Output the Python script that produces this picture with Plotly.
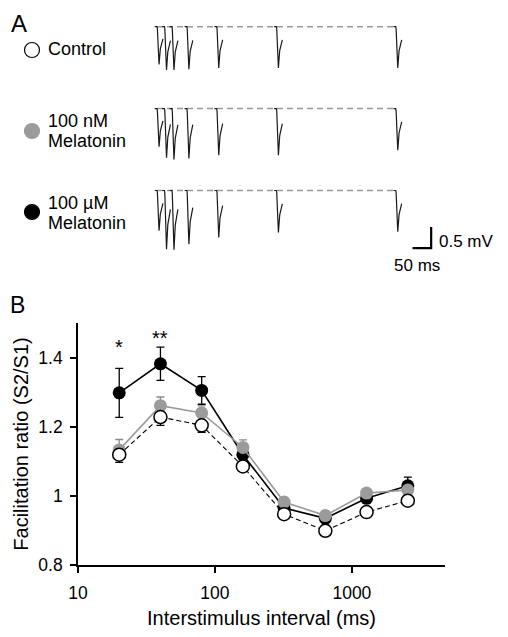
import numpy as np
import plotly.graph_objects as go

# ---------------- Panel B data ----------------
isi_ms = [20, 40, 80, 160, 320, 640, 1280, 2560]
control = [1.119, 1.228, 1.204, 1.085, 0.947, 0.899, 0.953, 0.986]
control_err = [0.022, 0.024, 0.020, 0.012, 0.010, 0.010, 0.012, 0.010]
mel_100nM = [1.133, 1.261, 1.240, 1.140, 0.982, 0.943, 1.008, 1.017]
mel_100nM_err = [0.030, 0.025, 0.020, 0.022, 0.010, 0.012, 0.010, 0.012]
mel_100uM = [1.298, 1.382, 1.305, 1.119, 0.965, 0.935, 0.993, 1.029]
mel_100uM_err = [0.071, 0.048, 0.040, 0.030, 0.015, 0.020, 0.015, 0.025]
x_ticks = [10, 100, 1000]
x_ticktext = ["10", "100", "1000"]
y_ticks = [0.8, 1.0, 1.2, 1.4]
y_ticktext = ["0.8", "1", "1.2", "1.4"]
sig_isi = [20, 40]
sig_labels = ["*", "**"]
sig_y = [1.443, 1.467]

# ---------------- Panel A data (example traces) ----------------
trace_isi = [20, 40, 80, 160, 320, 640]          # ms, superimposed sweeps
ctrl_s1 = 0.90                                    # mV
ctrl_s2 = [1.03, 1.03, 1.01, 0.98, 0.98, 0.98]
nm_s1 = 0.91
nm_s2 = [1.17, 1.21, 1.19, 1.11, 1.11, 0.99]
um_s1 = 0.96
um_s2 = [1.40, 1.41, 1.28, 1.12, 1.00, 0.98]
# fEPSP waveform template: time from stimulus (ms), fraction of peak
tmpl_t = [-6, 0, 1, 5.5, 9, 11.5, 16]
tmpl_f = [0, 0, 0.05, 1.0, 0.58, 0.45, 0.32]
scale_ms = 50
scale_mv = 0.5

# page body has an 8px margin; lay out in window pixel coordinates
OFF = 8
W, H = 492, 621
FONT = "Liberation Sans, Arial, sans-serif"

def px(x):
    return (x - OFF) / W

def py(y):
    return 1 - (y - OFF) / H

fig = go.Figure()

# ---------------- Panel A ----------------
PX_MS = 0.373
PX_MV = 42.0
T0_PX = 157.0
BASE_PX = 26.7
A_TOP, A_BOT = OFF, 292
xr2 = [(OFF - T0_PX) / PX_MS, (OFF + W - T0_PX) / PX_MS]
yr2 = [-(A_BOT - BASE_PX) / PX_MV, (BASE_PX - A_TOP) / PX_MV]
trace_gap = 1.95  # mV between stacked traces

conds = [(ctrl_s1, ctrl_s2), (nm_s1, nm_s2), (um_s1, um_s2)]
for i, (s1, s2) in enumerate(conds):
    off = -trace_gap * i
    fig.add_trace(go.Scatter(x=[0, trace_isi[-1]], y=[off, off], mode="lines",
                             line=dict(color="#9a9a9a", width=1.5, dash="6px,4px"),
                             xaxis="x2", yaxis="y2", hoverinfo="skip", showlegend=False))
    xs, ys = [], []
    responses = [(0, s1)] + list(zip(trace_isi, s2))
    for t0, amp in responses:
        for dt, f in zip(tmpl_t, tmpl_f):
            xs.append(t0 + dt)
            ys.append(off - amp * f)
        xs.append(None)
        ys.append(None)
    fig.add_trace(go.Scatter(x=xs, y=ys, mode="lines",
                             line=dict(color="#1a1a1a", width=1.2),
                             xaxis="x2", yaxis="y2", hoverinfo="skip", showlegend=False))

# scale bar
sb_t_end = 735
sb_v = -5.27
fig.add_trace(go.Scatter(x=[sb_t_end - scale_ms, sb_t_end, sb_t_end],
                         y=[sb_v, sb_v, sb_v + scale_mv], mode="lines",
                         line=dict(color="black", width=2.2),
                         xaxis="x2", yaxis="y2", hoverinfo="skip", showlegend=False))

# ---------------- Panel B ----------------
series = [
    (mel_100uM, mel_100uM_err, "black", "black", "black", "solid", "both"),
    (mel_100nM, mel_100nM_err, "#9b9b9b", "#9b9b9b", "#8a8a8a", "solid", "up"),
    (control, control_err, "white", "black", "black", "dash", "down"),
]
for vals, err, fill, edge, ecol, dash, mode in series:
    zeros = [0] * len(err)
    if mode == "both":
        ey = dict(type="data", array=err, arrayminus=err, symmetric=False)
    elif mode == "up":
        ey = dict(type="data", array=err, arrayminus=zeros, symmetric=False)
    else:
        ey = dict(type="data", array=zeros, arrayminus=err, symmetric=False)
    ey.update(color=ecol, thickness=1.3, width=4)
    fig.add_trace(go.Scatter(
        x=isi_ms, y=vals, mode="lines+markers",
        line=dict(color=edge if fill != "white" else "black", width=1.6 if dash == "solid" else 1.1,
                  dash="solid" if dash == "solid" else "5px,3px"),
        marker=dict(size=13, color=fill, line=dict(color=edge, width=1.5 if fill == "white" else 0)),
        error_y=ey, xaxis="x", yaxis="y", showlegend=False, hoverinfo="skip"))

annotations = []
for xv, lab, yv in zip(sig_isi, sig_labels, sig_y):
    annotations.append(dict(x=np.log10(xv), y=yv, xref="x", yref="y", text=lab,
                            showarrow=False, yanchor="middle", yshift=-4,
                            font=dict(family=FONT, size=20, color="black")))

def txt(x, y, s, size, xanchor="left", yanchor="middle"):
    annotations.append(dict(x=px(x), y=py(y), xref="paper", yref="paper", text=s,
                            showarrow=False, xanchor=xanchor, yanchor=yanchor,
                            font=dict(family=FONT, size=size, color="black")))

txt(9, OFF, "A", 24, yanchor="top")
txt(8, 305, "B", 23)
txt(46, 49, "Control", 18)
txt(46, 121, "100 nM", 18)
txt(46, 141, "Melatonin", 18)
txt(46, 203, "100 \u00b5M", 18)
txt(46, 223, "Melatonin", 18)
txt(437, 241, "0.5 mV", 17)
txt(417, 265, "50 ms", 17, xanchor="center")

shapes = []
def legend_circle(x, y, fill, line):
    shapes.append(dict(type="circle", xref="paper", yref="paper",
                       xsizemode="pixel", ysizemode="pixel",
                       xanchor=px(x), yanchor=py(y),
                       x0=-7.5, x1=7.5, y0=-7.5, y1=7.5,
                       fillcolor=fill, line=dict(color=line, width=1.2)))

legend_circle(32, 50, "white", "black")
legend_circle(32, 131, "#9b9b9b", "#9b9b9b")
legend_circle(32, 212, "black", "black")

fig.update_layout(
    width=W, height=H,
    margin=dict(l=0, r=0, t=0, b=0, autoexpand=False),
    paper_bgcolor="white", plot_bgcolor="white",
    font=dict(family=FONT, color="black"),
    annotations=annotations, shapes=shapes,
    xaxis=dict(type="log", range=[1, 3.68], domain=[px(78), px(445)], anchor="y",
               automargin=False,
               showline=True, linecolor="black", linewidth=1.6,
               ticks="outside", ticklen=6, tickwidth=1.5, tickcolor="black",
               ticklabelstandoff=5,
               tickvals=x_ticks, ticktext=x_ticktext, tickfont=dict(size=17.5),
               showgrid=False, zeroline=False,
               title=dict(text="Interstimulus interval (ms)", font=dict(size=20), standoff=12)),
    yaxis=dict(range=[0.8, 1.5], domain=[py(565), py(323)], anchor="x",
               automargin=False,
               showline=True, linecolor="black", linewidth=1.6,
               ticks="outside", ticklen=6, tickwidth=1.5, tickcolor="black",
               ticklabelstandoff=4,
               tickvals=y_ticks, ticktext=y_ticktext, tickfont=dict(size=17.5),
               showgrid=False, zeroline=False,
               title=dict(text="Facilitation ratio (S2/S1)", font=dict(size=20), standoff=4)),
    xaxis2=dict(domain=[0, 1], range=xr2, anchor="y2", visible=False, automargin=False),
    yaxis2=dict(domain=[py(A_BOT), 1], range=yr2, anchor="x2", visible=False, automargin=False),
)

fig.write_html("out.html")
